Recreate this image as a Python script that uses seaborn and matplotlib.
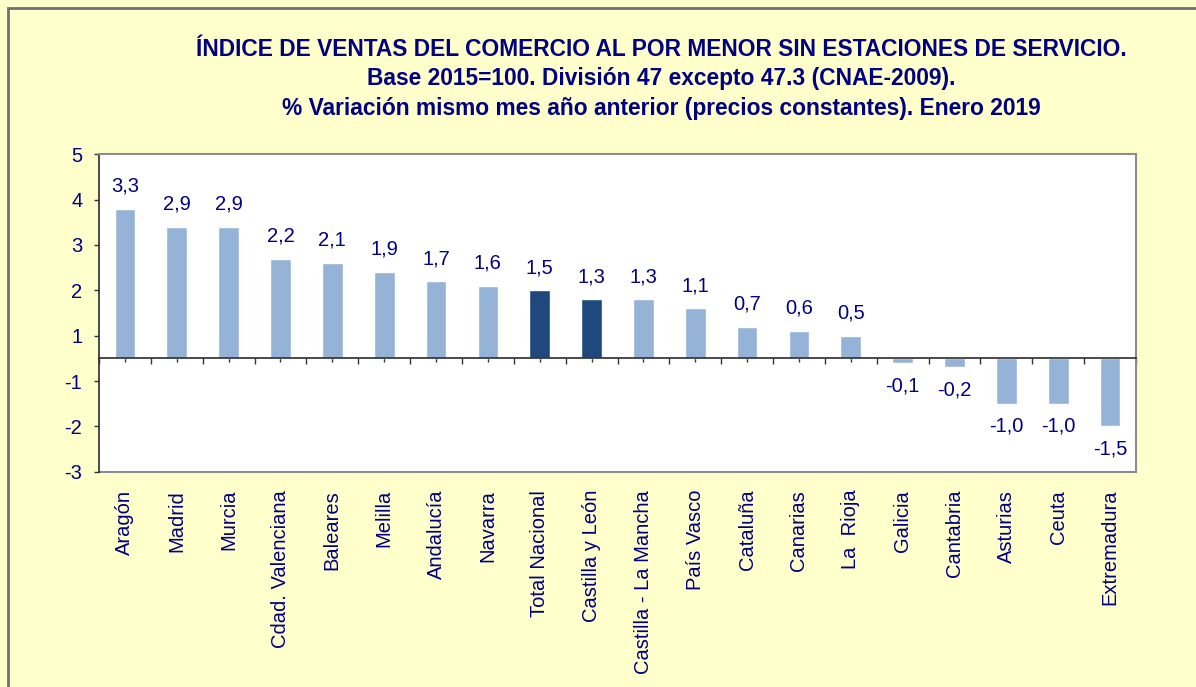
#!/usr/bin/env python3
"""
Indice de ventas del comercio al por menor - variacion interanual por CCAA.
"""
import numpy as np
import matplotlib
matplotlib.use("Agg")
import matplotlib.pyplot as plt
import matplotlib.patches as mpatches
import seaborn as sns

# Data
categories = ["Aragón", "Madrid", "Murcia", "Cdad. Valenciana", "Baleares", "Melilla",
              "Andalucía", "Navarra", "Total Nacional", "Castilla y León",
              "Castilla - La Mancha", "País Vasco", "Cataluña", "Canarias", "La  Rioja",
              "Galicia", "Cantabria", "Asturias", "Ceuta", "Extremadura"]
values = [3.3, 2.9, 2.9, 2.2, 2.1, 1.9, 1.7, 1.6, 1.5, 1.3,
          1.3, 1.1, 0.7, 0.6, 0.5, -0.1, -0.2, -1.0, -1.0, -1.5]
highlight = ["Total Nacional", "Castilla y León"]
ytick_pos = [-2.5, -1.5, -0.5, 0.5, 1.5, 2.5, 3.5, 4.5]
ytick_labels = ["-3", "-2", "-1", "1", "2", "3", "4", "5"]

title_lines = [
    "ÍNDICE DE VENTAS DEL COMERCIO AL POR MENOR SIN ESTACIONES DE SERVICIO.",
    "Base 2015=100. División 47 excepto 47.3 (CNAE-2009).",
    "% Variación mismo mes año anterior (precios constantes). Enero 2019",
]

LIGHT = "#95B3D7"
DARK = "#1F497D"
NAVY = "#000080"
BG = "#FFFFCC"
FS = 14.5

sns.set_theme(style="white")
plt.rcParams["font.family"] = ["Liberation Sans", "DejaVu Sans"]

W, H = 1196, 687
fig = plt.figure(figsize=(W / 100, H / 100), dpi=100, facecolor=BG)
ax = fig.add_axes([99 / W, 1 - 471.7 / H, (1136 - 99) / W, (471.7 - 154.3) / H])
ax.set_facecolor("white")

palette = {c: (DARK if c in highlight else LIGHT) for c in categories}
sns.barplot(x=categories, y=values, hue=categories, palette=palette, legend=False,
            width=0.4, saturation=1, ax=ax)

ax.set_xlim(-0.5, len(categories) - 0.5)
ax.set_ylim(-2.5, 4.5)

# value labels with decimal comma
for cont, v in zip(ax.containers, values):
    ax.bar_label(cont, labels=[f"{v:.1f}".replace(".", ",")], padding=9.5,
                 fontsize=FS, color=NAVY)

# y axis
ax.set_yticks(ytick_pos)
ax.set_yticklabels(ytick_labels)
ax.tick_params(axis="y", left=True, direction="out", length=3.5, width=1,
               color="#333333", pad=8.5, labelsize=FS, labelcolor=NAVY)

# zero line with ticks between and on categories
ax.spines["bottom"].set_position(("data", 0))
ax.spines["bottom"].set_color("#333333")
ax.set_xticks(np.arange(len(categories) + 1) - 0.5)
ax.set_xticks(np.arange(len(categories)), minor=True)
ax.tick_params(axis="x", which="both", bottom=True, direction="out", color="#333333",
               labelbottom=False)
ax.tick_params(axis="x", which="major", length=4, width=1)
ax.tick_params(axis="x", which="minor", length=3, width=1)
ax.set_xlabel("")

for s in ["top", "right"]:
    ax.spines[s].set_color("#8C8C8C")
    ax.spines[s].set_linewidth(1.5)
ax.spines["left"].set_color("#333333")

# category labels on a secondary axis at the plot bottom
sec = ax.secondary_xaxis("bottom")
sec.set_xticks(np.arange(len(categories)))
sec.set_xticklabels(categories, rotation=90, fontsize=FS, color=NAVY)
sec.tick_params(axis="x", length=0, pad=13)
sec.spines["bottom"].set_color("#8C8C8C")
sec.spines["bottom"].set_linewidth(1.5)

# title
for txt, yc in zip(title_lines, [49, 79, 109]):
    fig.text(661 / W, 1 - yc / H, txt, ha="center", va="center", fontsize=16.4,
             fontweight="bold", color=NAVY)

# outer frame
fig.patches.append(mpatches.Rectangle((8 / W, -0.1), 1.2, 1.1 - 8 / H,
                                      transform=fig.transFigure, fill=False,
                                      edgecolor="#707070", linewidth=2))

fig.savefig("out.png", dpi=100, facecolor=BG)
